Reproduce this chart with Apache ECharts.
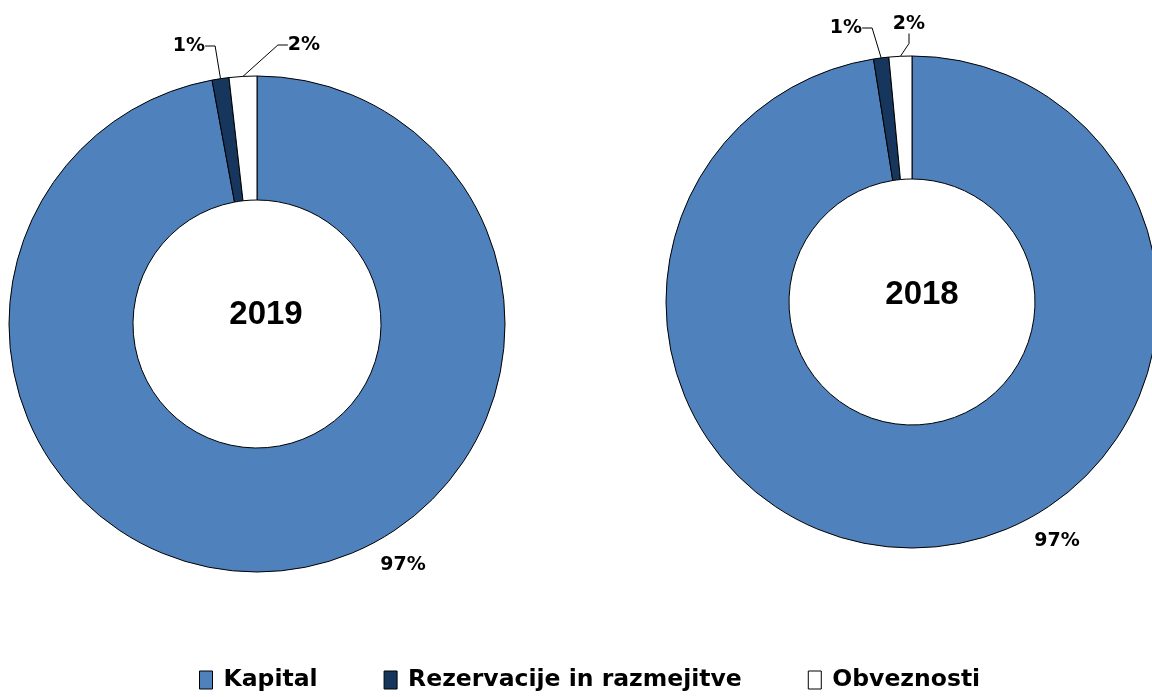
<!DOCTYPE html>
<html>
<head>
<meta charset="utf-8">
<script src="https://cdn.jsdelivr.net/npm/echarts@6/dist/echarts.min.js"></script>
<style>html,body{margin:0;padding:0;background:#fff}#c{width:1152px;height:697px}</style>
</head>
<body>
<div id="c"></div>
<script>
var categories = ['Kapital', 'Rezervacije in razmejitve', 'Obveznosti'];
var years = ['2019', '2018'];
var values2019 = [97.1, 1.1, 1.8];
var values2018 = [97.5, 1.0, 1.5];
var labels2019 = ['97%', '1%', '2%'];
var labels2018 = ['97%', '1%', '2%'];
var colors = ['#4F81BD', '#17365D', '#FFFFFF'];

var chart = echarts.init(document.getElementById('c'), null, {renderer: 'canvas'});
var labelFont = {fontFamily: 'DejaVu Sans', fontWeight: 'bold', fontSize: 19, color: '#000'};

// label anchor positions (pixel offsets per series, per item)
var labelPos = [
  [[403, 565], [189, 46], [304, 45]],
  [[1057, 541], [846, 28], [909, 24]]
];

function makeSeries(idx, vals, labs, center, radius) {
  return {
    type: 'pie',
    center: center,
    radius: radius,
    startAngle: 90,
    clockwise: true,
    avoidLabelOverlap: false,
    silent: true,
    itemStyle: {borderColor: '#000', borderWidth: 1},
    label: Object.assign({show: true, position: 'outside', formatter: function (p) { return labs[p.dataIndex]; }}, labelFont),
    labelLine: {show: true, length: 10, length2: 10, lineStyle: {color: '#000', width: 1}},
    labelLayout: function (p) {
      var pos = labelPos[idx][p.dataIndex];
      return {x: pos[0], y: pos[1], align: 'center', verticalAlign: 'middle'};
    },
    data: categories.map(function (c, i) {
      return {
        name: c, value: vals[i],
        itemStyle: {color: colors[i]},
        labelLine: {show: i !== 0}
      };
    })
  };
}

var titleStyle = {fontFamily: 'Liberation Sans', fontWeight: 'bold', fontSize: 33, color: '#000'};

chart.setOption({
  animation: false,
  title: [
    {text: years[0], left: 261, top: 293, textAlign: 'center', textStyle: titleStyle},
    {text: years[1], left: 917, top: 273, textAlign: 'center', textStyle: titleStyle}
  ],
  legend: {
    top: 663,
    left: 194,
    padding: 5,
    icon: 'rect',
    itemWidth: 13,
    itemHeight: 18,
    itemGap: 66,
    textStyle: {fontFamily: 'DejaVu Sans', fontWeight: 'bold', fontSize: 23.5, color: '#000', padding: [0, 0, 0, 6]},
    itemStyle: {borderColor: '#000', borderWidth: 1},
    data: categories
  },
  series: [
    makeSeries(0, values2019, labels2019, [257, 324], [124, 248]),
    makeSeries(1, values2018, labels2018, [912, 302], [123, 246])
  ]
});
</script>
</body>
</html>
